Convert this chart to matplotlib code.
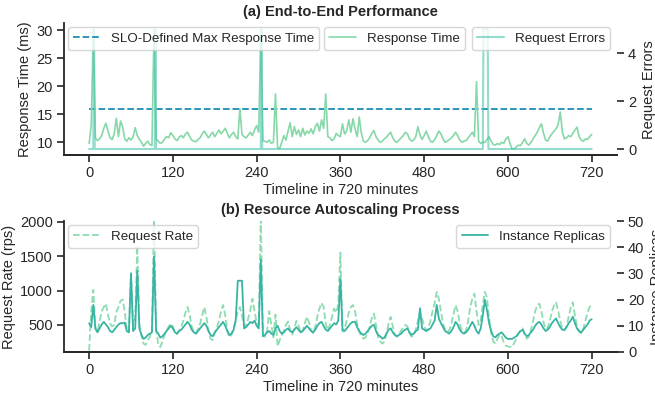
import numpy as np
import matplotlib.pyplot as plt
import seaborn as sns

# response time (ms), one value every 3 minutes from 0 to 720
resp_time = [
    9.8, 13.0, 30.1, 10.8, 10.3, 10.6, 11.2, 12.5, 13.4, 12.0,
    10.8, 10.5, 11.5, 14.3, 11.0, 13.8, 12.8, 10.6, 10.2, 10.8,
    10.4, 11.0, 12.6, 11.2, 10.5, 10.0, 9.3, 9.8, 10.2, 9.6,
    9.4, 30.1, 10.6, 10.2, 9.8, 10.0, 10.6, 11.0, 10.8, 11.7,
    11.2, 10.6, 10.3, 10.9, 11.2, 10.8, 11.5, 11.8, 11.0, 10.4,
    10.2, 10.1, 10.5, 10.8, 11.5, 12.0, 11.4, 10.8, 11.3, 11.8,
    11.0, 11.6, 12.2, 11.5, 12.0, 12.5, 11.6, 10.8, 11.4, 11.8,
    11.0, 10.6, 16.0, 11.4, 11.0, 10.8, 11.3, 11.8, 11.2, 12.2,
    13.0, 11.8, 30.1, 10.3, 10.2, 10.0, 10.4, 9.8, 10.0, 18.6,
    9.0, 8.9, 10.0, 11.2, 10.4, 12.0, 13.5, 11.0, 12.8, 11.4,
    12.2, 11.0, 12.5, 11.3, 12.0, 11.6, 12.4, 11.5, 12.8, 13.4,
    12.0, 14.0, 12.5, 18.6, 11.0, 10.8, 10.3, 10.6, 11.6, 11.2,
    11.0, 13.3, 11.5, 12.0, 14.0, 11.8, 14.2, 12.4, 11.0, 14.5,
    11.6, 10.2, 10.0, 10.3, 10.8, 11.6, 12.1, 11.0, 10.4, 10.0,
    10.2, 10.6, 10.9, 11.4, 11.8, 10.8, 10.2, 10.0, 10.4, 10.8,
    11.2, 11.8, 11.5, 10.6, 10.2, 10.4, 11.0, 12.8, 11.3, 10.5,
    11.2, 12.0, 11.0, 10.2, 10.0, 10.5, 11.2, 12.0, 11.5, 10.6,
    10.0, 10.2, 10.5, 10.8, 11.2, 11.8, 11.2, 10.4, 10.0, 10.2,
    10.3, 10.8, 11.3, 11.8, 11.0, 20.8, 10.2, 9.8, 10.0, 10.0,
    10.5, 11.0, 10.2, 9.6, 9.5, 9.8, 9.6, 10.0, 9.8, 10.6,
    11.0, 9.8, 8.8, 8.8, 9.2, 9.5, 9.4, 10.0, 10.6, 9.8,
    9.5, 10.0, 10.6, 11.2, 11.8, 12.6, 13.3, 11.6, 10.4, 10.2,
    11.0, 11.5, 12.0, 12.4, 13.2, 15.4, 11.8, 10.6, 10.8, 11.2,
    11.0, 11.6, 12.2, 12.7, 11.0, 10.4, 10.2, 10.6, 10.5, 11.0,
    11.4,
]

# request errors: minutes with errors and their counts (zero elsewhere)
err_minutes = [7, 95, 247, 565, 566, 567, 568, 569, 570, 571]
err_counts = [5, 5, 5, 5, 5, 5, 5, 5, 5, 5]

slo_max = 16

# request rate (rps), every 3 minutes
req_rate = [
    130, 700, 1010, 450, 400, 550, 700, 760, 810, 650,
    520, 480, 500, 690, 760, 850, 870, 700, 420, 400,
    1250, 500, 600, 1650, 500, 340, 230, 210, 280, 330,
    400, 2100, 450, 220, 180, 260, 350, 420, 480, 520,
    480, 400, 370, 420, 480, 560, 680, 760, 640, 480,
    400, 380, 440, 520, 640, 760, 620, 420, 300, 280,
    380, 460, 560, 700, 790, 640, 420, 320, 360, 460,
    560, 700, 760, 640, 480, 500, 600, 720, 880, 700,
    540, 500, 2100, 350, 330, 420, 700, 500, 320, 650,
    190, 280, 350, 420, 500, 550, 430, 360, 450, 560,
    500, 380, 420, 520, 620, 540, 420, 380, 480, 620,
    740, 820, 760, 520, 420, 500, 620, 740, 680, 800,
    1550, 400, 450, 560, 680, 760, 790, 700, 520, 400,
    340, 300, 320, 380, 480, 600, 665, 500, 330, 260,
    228, 260, 380, 520, 618, 480, 360, 330, 360, 420,
    470, 500, 480, 380, 330, 350, 430, 560, 690, 600,
    480, 420, 450, 560, 700, 820, 980, 883, 700, 520,
    440, 400, 420, 520, 660, 787, 700, 520, 420, 390,
    420, 560, 760, 880, 955, 700, 500, 560, 800, 980,
    900, 600, 380, 260, 230, 300, 360, 340, 250, 200,
    190, 180, 180, 240, 300, 380, 420, 450, 360, 300,
    330, 430, 560, 700, 780, 810, 700, 540, 440, 460,
    560, 700, 780, 830, 700, 560, 450, 420, 480, 620,
    760, 830, 640, 480, 400, 380, 450, 560, 680, 760,
    790,
]

# instance replicas, every 3 minutes
replicas = [
    11, 9.5, 18, 9, 7.5, 9, 10.5, 11.5, 10.5, 9.5,
    8, 7.5, 8.5, 9.5, 10.5, 11, 11, 11.2, 8, 7.5,
    30, 8, 9, 31, 9, 6.5, 5, 5.5, 6.5, 7,
    7.5, 36.5, 8, 7, 5.5, 6, 7, 8, 9, 10,
    9, 7.5, 7, 8, 8.5, 9.5, 10.5, 11.5, 10.5, 8.5,
    7.5, 7, 8, 9, 10, 11, 10, 8, 6.5, 6,
    7.5, 8.5, 9.5, 10.5, 11.5, 10, 8, 6.5, 7, 8.5,
    12, 27.2, 27.2, 27.2, 9, 9.5, 10.5, 11.5, 11, 12,
    10, 9, 35.3, 6, 6.5, 7.5, 8, 7, 6.5, 9,
    10, 8, 7, 7.5, 8.5, 9, 8, 7.5, 8.5, 9.5,
    8.5, 7.5, 8, 9, 10, 9, 8, 7.5, 8.5, 10,
    11, 11.5, 10, 8.5, 8, 9, 10, 11, 10.5, 12,
    28, 8.5, 8, 9, 10, 11, 11.5, 11.5, 9.5, 8,
    7, 6.5, 7, 8, 9, 10, 10.4, 8, 6.5, 6,
    5.1, 5.5, 7, 8.5, 9, 7.5, 6.5, 6, 6.5, 7,
    8, 8.5, 9, 7.5, 6.5, 7, 8, 8.5, 16.7, 9,
    8.5, 8, 8.5, 9, 10.5, 12, 18, 12.8, 11, 9.5,
    8, 7.5, 7, 8, 9.5, 11.5, 10.5, 8.5, 7.5, 7,
    7.5, 8.5, 10, 11.5, 10, 8, 7, 9, 14, 19.9,
    16, 11, 8, 6, 5.6, 6.5, 7, 7.5, 6.5, 5.5,
    5, 5, 5, 5.5, 6, 7, 8, 8.5, 7, 6,
    6.5, 7.5, 8.5, 10, 11, 11.5, 10.5, 9, 8, 8.5,
    9.5, 11, 12, 12.8, 11, 9.5, 8.5, 8.5, 9.5, 11,
    12, 13.5, 11, 9, 8, 7.5, 8.5, 9.5, 10.5, 12,
    12.5,
]

sns.set_theme(style='ticks')
plt.rcParams['font.family'] = ['Liberation Sans', 'DejaVu Sans']

t3 = np.arange(len(resp_time)) * 3
minutes = np.arange(721)
errors = np.zeros(len(minutes))
errors[err_minutes] = err_counts

fig = plt.figure(figsize=(6.55, 3.95), dpi=100)
ax1 = fig.add_axes([0.0977, 0.6076, 0.844, 0.3334])
ax2 = fig.add_axes([0.0977, 0.1089, 0.844, 0.3316])

fs = 10.5
lfs = 9.6

# (a) end-to-end performance
slo_line, = ax1.plot([0, 720], [slo_max, slo_max], '--', color='#1b8db5', lw=1.3)
rt_line, = ax1.plot(t3, resp_time, color='#86d8a9', lw=1.2)
ax1.set_ylim(7.74, 31.2)
ax1.set_yticks([10, 15, 20, 25, 30])
ax1.set_xlim(-36, 756)
ax1b = ax1.twinx()
err_line, = ax1b.plot(minutes, errors, color='#4cc3ae', lw=1.5, alpha=0.6)
ax1b.set_ylim(-0.25, 5.25)
ax1b.set_yticks([0, 2, 4])
ax1.set_ylabel('Response Time (ms)', fontsize=fs, labelpad=3)
ax1b.set_ylabel('Request Errors', fontsize=fs)
ax1.set_xlabel('Timeline in 720 minutes', fontsize=fs, labelpad=2)
ax1.set_title('(a) End-to-End Performance', fontsize=fs, fontweight='bold', pad=5)
leg1 = ax1b.legend([slo_line], ['SLO-Defined Max Response Time'], loc='upper left',
                   bbox_to_anchor=(0.0, 1.0), fontsize=lfs, borderaxespad=0.3)
ax1b.add_artist(leg1)
leg2 = ax1b.legend([rt_line], ['Response Time'], loc='upper center',
                   bbox_to_anchor=(0.598, 1.0), fontsize=lfs, borderaxespad=0.3)
ax1b.add_artist(leg2)
ax1b.legend([err_line], ['Request Errors'], loc='upper right',
            bbox_to_anchor=(0.995, 1.0), fontsize=lfs, borderaxespad=0.3)

# (b) resource autoscaling process
rr_line, = ax2.plot(t3, req_rate, '--', color='#8edcb0', lw=1.3)
ax2.set_ylim(108, 2010)
ax2.set_yticks([500, 1000, 1500, 2000])
ax2.set_xlim(-36, 756)
ax2b = ax2.twinx()
rep_line, = ax2b.plot(t3, replicas, color='#38b4a4', lw=1.3)
ax2b.set_ylim(0, 50)
ax2b.set_yticks([0, 10, 20, 30, 40, 50])
ax2.set_ylabel('Request Rate (rps)', fontsize=fs, labelpad=3)
ax2b.set_ylabel('Instance Replicas', fontsize=fs)
ax2.set_xlabel('Timeline in 720 minutes', fontsize=fs, labelpad=2)
ax2.set_title('(b) Resource Autoscaling Process', fontsize=fs, fontweight='bold', pad=5)
leg3 = ax2b.legend([rr_line], ['Request Rate'], loc='upper left', fontsize=lfs,
                   borderaxespad=0.3)
ax2b.add_artist(leg3)
ax2b.legend([rep_line], ['Instance Replicas'], loc='upper right',
            bbox_to_anchor=(0.995, 1.0), fontsize=lfs, borderaxespad=0.3)

for ax in [ax1, ax2, ax1b, ax2b]:
    ax.set_xticks([0, 120, 240, 360, 480, 600, 720])
    ax.tick_params(labelsize=fs, length=5, width=1.2, pad=3)
    for s in ['top', 'right']:
        ax.spines[s].set_visible(False)
    ax.spines['left'].set_linewidth(1.3)
    ax.spines['bottom'].set_linewidth(1.3)
for ax in [ax1b, ax2b]:
    ax.spines['left'].set_visible(False)

fig.savefig('out.png', dpi=100)
